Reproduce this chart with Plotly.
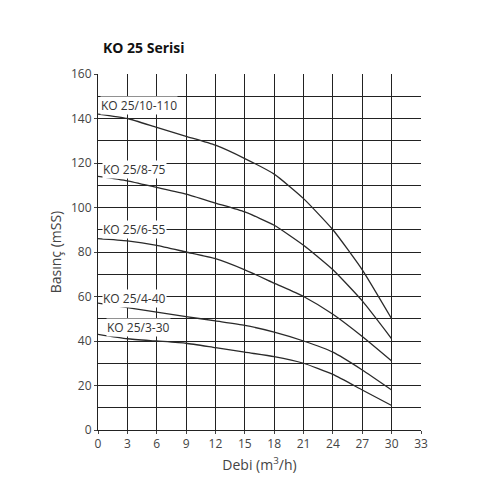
import plotly.graph_objects as go

x = [0, 3, 6, 9, 12, 15, 18, 21, 24, 27, 30]
names = ["KO 25/10-110", "KO 25/8-75", "KO 25/6-55", "KO 25/4-40", "KO 25/3-30"]
s_10_110 = [142, 140, 136, 132, 128, 122, 115, 104, 90, 72, 50]
s_8_75 = [114, 112, 109, 106, 102, 98, 92, 83, 72, 58, 41]
s_6_55 = [86, 85, 83, 80, 77, 72, 66, 60, 52, 42, 31]
s_4_40 = [57, 55, 53, 51, 49, 47, 44, 40, 35, 27, 18]
s_3_30 = [43, 41, 40, 39, 37, 35, 33, 30, 25, 18, 11]
series = [s_10_110, s_8_75, s_6_55, s_4_40, s_3_30]
label_y = [146, 117, 90, 59, 46]
label_x = [0.2, 0.4, 0.4, 0.4, 0.8]

fig = go.Figure()
for n, s in zip(names, series):
    fig.add_trace(go.Scatter(x=x, y=s, mode="lines",
                             line=dict(color="#2a2a2a", width=1.3, shape="spline", smoothing=0.5),
                             showlegend=False, hoverinfo="skip"))
for n, lx, ly in zip(names, label_x, label_y):
    fig.add_annotation(x=lx, y=ly, text=n, showarrow=False, xanchor="left", yanchor="middle",
                       font=dict(size=12, color="#333"), bgcolor="white", borderpad=0)

fig.update_layout(
    width=500, height=500, margin=dict(l=90, r=87, t=66, b=78, autoexpand=False),
    plot_bgcolor="white", paper_bgcolor="white",
    font=dict(family="Open Sans", color="#444", size=12),
    title=dict(text="<b>KO 25 Serisi</b>", x=0.19, xanchor="left", y=0.92, yanchor="middle",
               font=dict(size=14, color="#111")),
)
fig.update_xaxes(range=[0, 33], tickvals=list(range(0, 34, 3)), showgrid=True, gridcolor="#222", gridwidth=1,
                 zeroline=False, showline=True, linecolor="#222", ticks="outside", ticklen=3, automargin=False,
                 title=dict(text="Debi (m<sup>3</sup>/h)", standoff=8))
fig.update_yaxes(range=[0, 160], tickvals=list(range(0, 161, 20)), showgrid=True, gridcolor="#222", gridwidth=1,
                 minor=dict(tickvals=list(range(10, 160, 20)), showgrid=True, gridcolor="#222", gridwidth=1),
                 zeroline=False, showline=True, linecolor="#222", ticks="outside", ticklen=3, automargin=False,
                 title=dict(text="Basınç (mSS)", standoff=6))
fig.write_html("out.html")
